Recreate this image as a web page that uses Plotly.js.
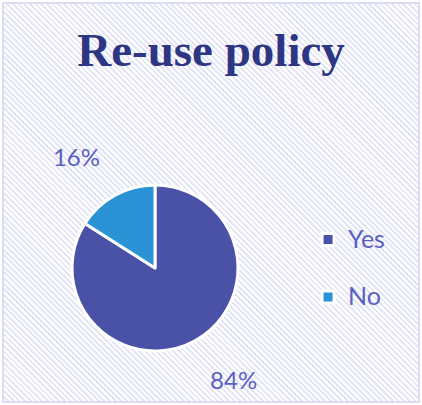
<!DOCTYPE html>
<html>
<head>
<meta charset="utf-8">
<script src="https://cdn.plot.ly/plotly-3.0.1.min.js"></script>
<style>
  html, body { margin: 0; padding: 0; background: #ffffff; }
  #wrap {
    position: absolute; left: 0; top: 0; width: 422px; height: 405px;
    background: #ffffff;
  }
  #frame {
    position: absolute; left: 2px; top: 2px; width: 414px; height: 397px;
    border: 2px solid #dcdcf2;
    background: repeating-linear-gradient(45deg, #ffffff 0px, #ffffff 2px, #e4e5f6 2px, #e4e5f6 4px);
  }
  #chart { position: absolute; left: 0; top: 0; width: 422px; height: 405px; }
</style>
</head>
<body>
<div id="wrap">
  <div id="frame"></div>
  <div id="chart"></div>
</div>
<script>
const titleText = 'Re-use policy';
const labels = ['Yes', 'No'];
const values = [84, 16];
const sliceColors = ['#4a52a8', '#2a93d6'];

const NB = '\u00a0';
const legendLabels = labels.map(l => '<span style="font-size:25px">' + l + '</span><br>' + NB);
const pctTemplates = [
  NB + '<br>%{percent:.0%}',
  '%{percent:.0%}<br>' + NB
];

const data = [{
  type: 'pie',
  labels: legendLabels,
  values: values,
  sort: false,
  direction: 'clockwise',
  rotation: 0,
  marker: { colors: sliceColors, line: { color: '#ffffff', width: 3 } },
  textposition: 'outside',
  texttemplate: pctTemplates,
  textfont: { family: 'Lato, "Open Sans", sans-serif', size: 24, color: '#5a60c2' },
  outsidetextfont: { family: 'Lato, "Open Sans", sans-serif', size: 24, color: '#5a60c2' },
  domain: { x: [0.1706, 0.564], y: [0.1333, 0.5432] },
  hoverinfo: 'none',
  automargin: false
}];

const layout = {
  width: 422, height: 405,
  margin: { l: 0, r: 0, t: 0, b: 0 },
  paper_bgcolor: 'rgba(0,0,0,0)',
  plot_bgcolor: 'rgba(0,0,0,0)',
  title: {
    text: '<b>' + titleText + '</b>',
    font: { family: '"Liberation Serif", "DejaVu Serif", serif', size: 47, color: '#2e3582' },
    x: 0.5, xanchor: 'center',
    y: 0.877, yanchor: 'middle'
  },
  showlegend: true,
  legend: {
    x: 0.73, xanchor: 'left',
    y: 0.303, yanchor: 'middle',
    bgcolor: 'rgba(0,0,0,0)',
    valign: 'top',
    font: { family: 'Lato, "Open Sans", sans-serif', size: 21, color: '#5a60c2' },
    traceorder: 'normal'
  }
};

Plotly.newPlot('chart', data, layout, { displayModeBar: false, staticPlot: true });
</script>
</body>
</html>
